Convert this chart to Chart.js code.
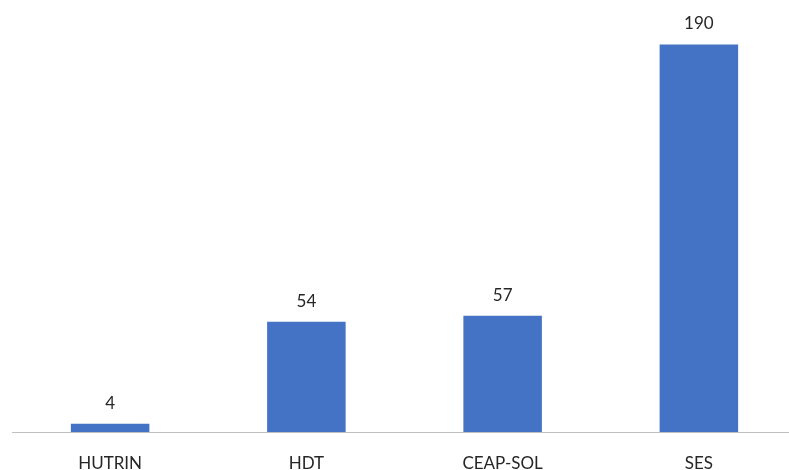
<!DOCTYPE html>
<html>
<head>
<meta charset="utf-8">
<script src="https://cdn.jsdelivr.net/npm/chart.js@4/dist/chart.umd.min.js"></script>
<style>
  html, body { margin: 0; padding: 0; background: #ffffff; overflow: hidden; }
  #wrap { width: 789px; height: 470px; overflow: hidden; position: relative; }
  #box { position: absolute; left: 0; top: 0; width: 797px; height: 470px; }
</style>
</head>
<body>
<div id="wrap"><div id="box"><canvas id="c"></canvas></div></div>
<script>
const categories = ["HUTRIN", "HDT", "CEAP-SOL", "SES"];
const counts = [4, 54, 57, 190];

const FONT = "Lato, 'DejaVu Sans Condensed', sans-serif";

// Writes each bar's value just above its top edge
const valueLabels = {
  id: 'valueLabels',
  afterDatasetsDraw(chart) {
    const ctx = chart.ctx;
    const meta = chart.getDatasetMeta(0);
    ctx.save();
    ctx.font = "17px " + FONT;
    ctx.fillStyle = "#262626";
    ctx.textAlign = "center";
    ctx.textBaseline = "bottom";
    meta.data.forEach((bar, i) => {
      ctx.fillText(String(counts[i]), bar.x, bar.y - 12);
    });
    ctx.restore();
  }
};

new Chart(document.getElementById('c'), {
  type: 'bar',
  data: {
    labels: categories,
    datasets: [{
      data: counts,
      backgroundColor: '#4472c4',
      borderWidth: 0,
      barPercentage: 0.4,
      categoryPercentage: 1.0
    }]
  },
  options: {
    responsive: true,
    maintainAspectRatio: false,
    animation: false,
    layout: { padding: { left: 12, right: 0, top: 24, bottom: 0 } },
    plugins: { legend: { display: false }, tooltip: { enabled: false } },
    scales: {
      x: {
        grid: { display: false, drawTicks: false },
        border: { display: true, color: '#bfbfbf', width: 1 },
        ticks: { color: '#262626', font: { family: FONT, size: 17 }, padding: 21 },
        afterFit(scale) { scale.height = 38; }
      },
      y: {
        display: false,
        min: 0,
        max: 200
      }
    }
  },
  plugins: [valueLabels]
});
</script>
</body>
</html>
